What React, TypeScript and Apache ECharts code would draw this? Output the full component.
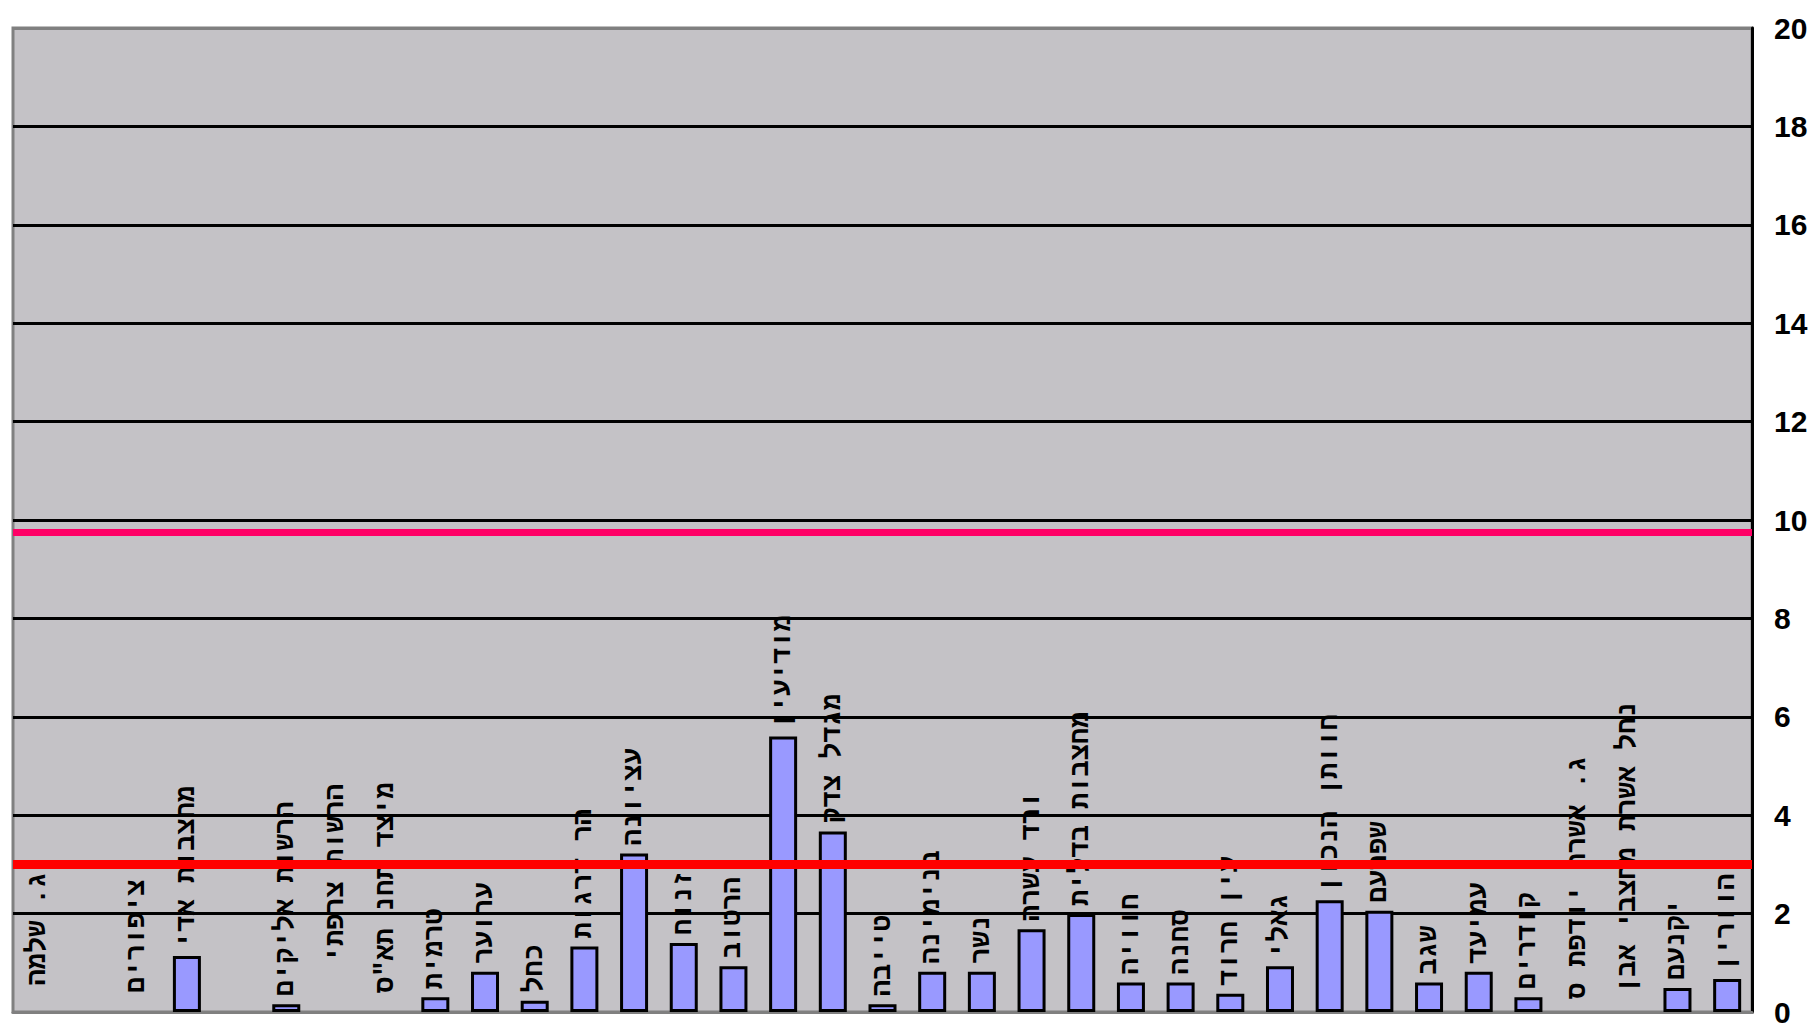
import React, { useEffect, useRef } from "react";
import * as echarts from "echarts";

const categories: string[] = [
  "ג. שלמה",
  "",
  "ציפורים",
  "מחצבות אדי",
  "",
  "הרשות אליקים",
  "הרשות צרפתי",
  "מיצד תחנ תא\"ס",
  "טרמית",
  "ערוער",
  "כחל",
  "הר דרגות",
  "עציונה",
  "זנוח",
  "הרטוב",
  "מודיעין",
  "מגדל צדק",
  "טייבה",
  "בנימינה",
  "נשר",
  "ורד עשרה",
  "מחצבות בדלית",
  "חוויה",
  "סחנה",
  "עין חרוד",
  "גאלי",
  "חוותן הנכון",
  "שפרעם",
  "שגב",
  "עמיעד",
  "קודרים",
  "ג. אשרת יודפת ס",
  "נחל אשרת מחצבי אבן",
  "יקנעם",
  "הוורין",
];

const values: number[] = [
  0, 0, 0, 1.14, 0, 0.16, 0, 0, 0.3, 0.82, 0.23, 1.33, 3.22, 1.4, 0.93, 5.6,
  3.67, 0.16, 0.82, 0.82, 1.68, 1.99, 0.6, 0.6, 0.37, 0.93, 2.27, 2.06, 0.6,
  0.82, 0.3, 0, 0, 0.49, 0.67,
];

const yTicks = { min: 0, max: 20, interval: 2 };
const upperLimit = 9.75;
const lowerLimit = 3;

// labels that hang down from a raised anchor (px above the axis)
const hangingLabels: Record<number, number> = { 0: 140, 6: 228, 31: 256 };

export default function App() {
  const ref = useRef<HTMLDivElement>(null);

  useEffect(() => {
    if (!ref.current) return;
    const chart = echarts.init(ref.current, undefined, { renderer: "svg" });

    const labelFont = {
      fontFamily: "Liberation Mono",
      fontWeight: "bold" as const,
      fontSize: 27,
      color: "#000",
    };

    const data = values.map((v, i) => {
      const item: any = { value: v };
      if (v === 0) item.itemStyle = { borderWidth: 0 };
      if (hangingLabels[i] !== undefined) {
        item.label = {
          position: ["50%", -hangingLabels[i]],
          align: "right",
          verticalAlign: "middle",
          rotate: 90,
        };
      } else if (v === 0) {
        item.label = { distance: 19 };
      }
      return item;
    });

    const splitColors = ["#808080"];
    for (let t = yTicks.min + yTicks.interval; t < yTicks.max; t += yTicks.interval) splitColors.push("#000");
    splitColors.push("#808080");

    chart.setOption({
      animation: false,
      backgroundColor: "#fff",
      grid: {
        left: 13,
        right: 66,
        top: 28,
        bottom: 11,
        show: true,
        backgroundColor: "#C4C2C6",
        borderColor: "#808080",
        borderWidth: 3,
      },
      xAxis: {
        type: "category",
        data: categories,
        axisLine: { show: true, lineStyle: { color: "#808080", width: 3 } },
        axisTick: { show: false },
        axisLabel: { show: false },
        splitLine: { show: false },
      },
      yAxis: {
        type: "value",
        position: "right",
        min: yTicks.min,
        max: yTicks.max,
        interval: yTicks.interval,
        axisLine: { show: true, lineStyle: { color: "#000", width: 3 } },
        axisTick: { show: false },
        axisLabel: {
          color: "#000",
          fontSize: 30,
          fontWeight: "bold",
          fontFamily: "Liberation Sans",
          margin: 22,
        },
        splitLine: { show: true, lineStyle: { color: splitColors, width: 3 } },
      },
      series: [
        {
          type: "bar",
          data,
          barWidth: 28,
          itemStyle: { color: "#9999FF", borderColor: "#000", borderWidth: 3 },
          label: {
            show: true,
            position: "top",
            distance: 8,
            rotate: 90,
            align: "left",
            verticalAlign: "middle",
            formatter: "{b}",
            ...labelFont,
          },
          markLine: {
            silent: true,
            symbol: ["none", "none"],
            label: { show: false },
            data: [
              { yAxis: upperLimit, lineStyle: { color: "#FF0066", width: 7, type: "solid" } },
              { yAxis: lowerLimit, lineStyle: { color: "#FF0000", width: 9, type: "solid" } },
            ],
          },
        },
      ],
    });

    return () => chart.dispose();
  }, []);

  return (
    <div
      ref={ref}
      style={{ position: "fixed", left: 0, top: 0, width: 1818, height: 1027 }}
    />
  );
}
